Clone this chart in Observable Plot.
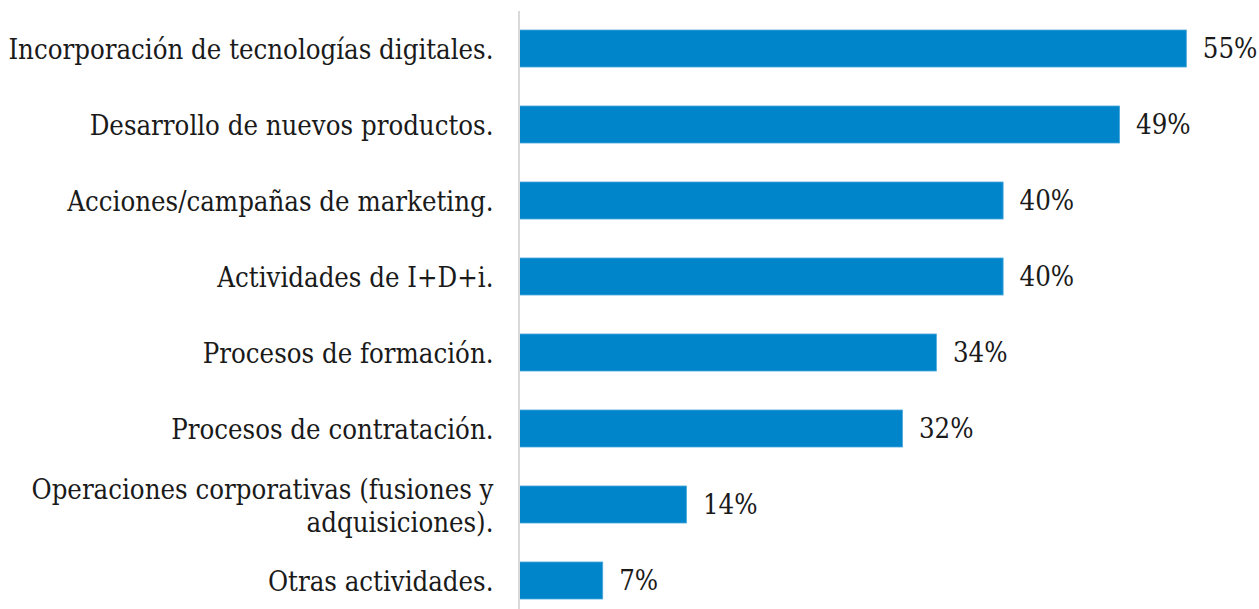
<!DOCTYPE html>
<html>
<head>
<meta charset="utf-8">
<script src="https://cdn.jsdelivr.net/npm/d3@7"></script>
<script src="https://cdn.jsdelivr.net/npm/@observablehq/plot@0.6"></script>
<style>
  html, body { margin: 0; padding: 0; background: #fff; }
  svg { display: block; }
</style>
</head>
<body>
<div id="chart"></div>
<script>
const categories = [
  "Incorporación de tecnologías digitales.",
  "Desarrollo de nuevos productos.",
  "Acciones/campañas de marketing.",
  "Actividades de I+D+i.",
  "Procesos de formación.",
  "Procesos de contratación.",
  "Operaciones corporativas (fusiones y\nadquisiciones).",
  "Otras actividades."
];
const values = [55, 49.5, 39.9, 39.9, 34.4, 31.6, 13.8, 6.9];
const valueLabels = ["55%", "49%", "40%", "40%", "34%", "32%", "14%", "7%"];

const data = categories.map((c, i) => ({category: c, value: values[i], label: valueLabels[i]}));

const FONT = "'DejaVu Serif Condensed', 'DejaVu Serif', serif";
const FS = 27.3;

const chart = Plot.plot({
  width: 1259,
  height: 609,
  marginLeft: 519,
  marginRight: 12,
  marginTop: 30,
  marginBottom: 10,
  style: {fontFamily: FONT, fontSize: FS + "px", color: "#1a1a1a", background: "#fff", fontStretch: "condensed"},
  x: {domain: [0, 60], axis: null},
  y: {domain: categories, paddingInner: 0.513, paddingOuter: 0, round: false, label: null},
  marks: [
    Plot.barX(data, {x: "value", y: "category", fill: "#0085CA", stroke: "#4aa8dd", strokeWidth: 0.8}),
    Plot.ruleX([0], {stroke: "#d9d9d9", strokeWidth: 2, dx: -0.5, insetTop: -19, insetBottom: -10}),
    Plot.text(data, {x: "value", y: "category", text: "label", textAnchor: "start", dx: 16, fill: "#1a1a1a", fontSize: FS}),
    Plot.axisY({tickSize: 0, tickPadding: 26, fontSize: FS, lineHeight: 1.2, label: null})
  ]
});
document.getElementById("chart").append(chart);
</script>
</body>
</html>
